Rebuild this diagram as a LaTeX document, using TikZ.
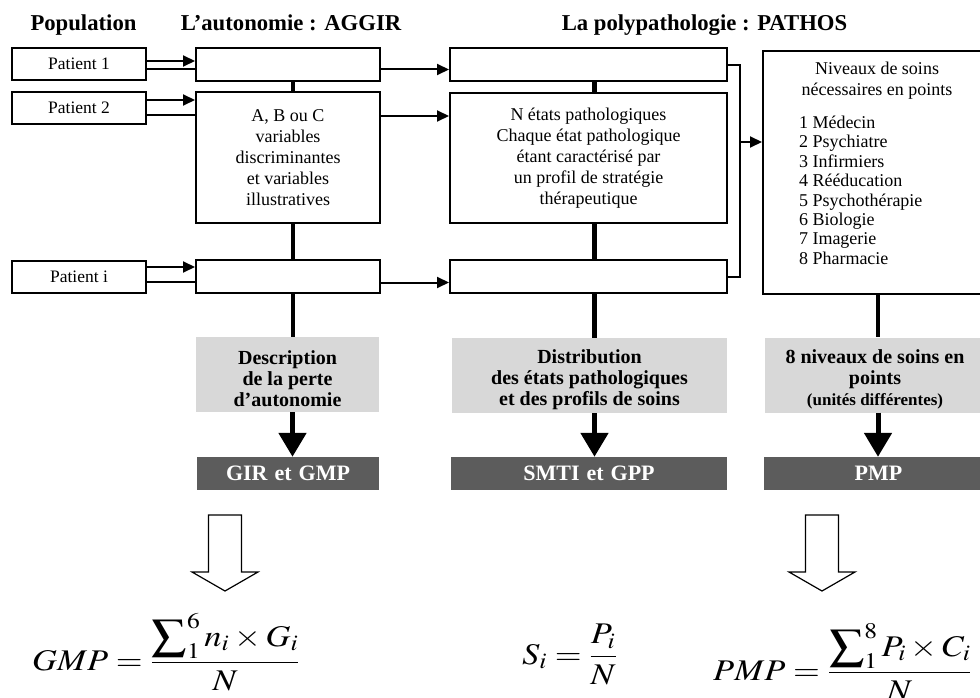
\documentclass[tikz,border=0pt]{standalone}
\usepackage{mathptmx}
\usepackage{graphicx}
\usepackage{fontspec}
\setmainfont{Liberation Serif}
\usepackage{tikz}
\usetikzlibrary{arrows.meta,positioning}
\definecolor{lightgr}{HTML}{D8D8D8}
\definecolor{darkgr}{HTML}{5C5C5C}

\begin{document}
\begin{tikzpicture}[x=1pt,y=-1pt,tt/.style={anchor=base,font=\fontsize{22.7}{26}\selectfont\bfseries},
pbox/.style={draw,line width=2pt,minimum width=134pt,minimum height=32pt,inner
sep=0pt,font=\fontsize{17.5}{21}\selectfont},bx/.style={draw,line width=2pt,inner sep=0pt,
align=center,font=\fontsize{18}{21}\selectfont},gbox/.style={fill=lightgr,inner sep=0pt,
align=center,minimum height=75pt,font=\fontsize{20}{21}\selectfont\bfseries},
dbox/.style={fill=darkgr,text=white,inner sep=0pt,minimum height=33pt,
font=\fontsize{22}{24}\selectfont\bfseries},arr/.style={line width=2pt,
-{Triangle[length=12pt,width=11pt]}},bar/.style={line width=4.5pt},
down/.style={line width=5pt,-{Triangle[length=24pt,width=27pt]}},
fml/.style={inner sep=0pt,anchor=base west,font=\fontsize{30}{34}\selectfont}]
\path[use as bounding box,fill=white] (0,0) rectangle (980,698);
\node[tt] (pop) at (83.5,31) {Population};
\node[tt] (aut) at (291,31) {L’autonomie : AGGIR};
\node[tt] (pat) at (704.5,31) {La polypathologie : PATHOS};
\node[pbox] (p1) at (79,64) {Patient 1};
\node[pbox] (p2) at (79,108) {Patient 2};
\node[pbox] (pi) at (79,276.5) {Patient i};
\node[bx,minimum width=184pt,minimum height=33pt] (a1) at (288,64.5) {};
\node[bx,minimum width=184pt,minimum height=131pt] (a2) at (288,157.5)
  {A, B ou C\\variables\\discriminantes\\et variables\\illustratives};
\node[bx,minimum width=184pt,minimum height=33pt] (a3) at (288,276.5) {};
\node[bx,minimum width=277pt,minimum height=33pt] (b1) at (588.5,65) {};
\node[bx,minimum width=277pt,minimum height=130pt] (b2) at (588.5,158)
  {N états pathologiques\\Chaque état pathologique\\étant caractérisé par\\un profil
   de stratégie\\thérapeutique};
\node[bx,minimum width=277pt,minimum height=33pt] (b3) at (588.5,276.5) {};
\node[bx,minimum width=222pt,minimum height=243pt] (c) at (874,172.5) {};
\node[bx,draw=none] (ch) at (877,81) {Niveaux de soins\\nécessaires en points};
\node[bx,draw=none,align=left,anchor=north west,
  font=\fontsize{18}{19.4}\selectfont] (cl) at (798,115)
  {1 Médecin\\2 Psychiatre\\3 Infirmiers\\4 Rééducation\\5 Psychothérapie\\6 Biologie\\
   7 Imagerie\\8 Pharmacie};
\node[gbox,minimum width=183pt] (g1) at (287.5,374.5)
  {\rule{0pt}{22pt}Description\\de la perte\\d’autonomie};
\node[gbox,minimum width=275pt] (g2) at (589.5,375.5)
  {\rule{0pt}{22pt}Distribution\\des états pathologiques\\et des profils de soins};
\node[gbox,minimum width=220pt] (g3) at (875,375)
  {\rule{0pt}{22pt}8 niveaux de soins en\\points\\{\fontsize{17}{21}\selectfont(unités différentes)}};
\node[dbox,minimum width=182pt] (d1) at (288,473.5) {GIR\hspace{7pt}et\hspace{7pt}GMP};
\node[dbox,minimum width=276pt] (d2) at (589,473.5) {SMTI\hspace{7pt}et\hspace{7pt}GPP};
\node[dbox,minimum width=221pt] (d3) at (874.5,473.5) {\hspace{8pt}PMP};
\node[fml] (f1) at (32,670) {\scalebox{1.15}[1]{$\displaystyle
  GMP=\frac{\displaystyle\sum\nolimits_1^6 n_i\times G_i}{N}$}};
\node[fml] (f2) at (522,664) {\scalebox{1.15}[1]{$\displaystyle S_i=\frac{P_i}{N}$}};
\node[fml] (f3) at (713,680) {\scalebox{1.15}[1]{$\displaystyle
  PMP=\frac{\displaystyle\sum\nolimits_1^8 P_i\times C_i}{N}$}};
\foreach \p/\a/\u/\l in {p1/a1/3/-5,p2/a2/8/-7,pi/a3/9.5/-5.5}{
  \draw[arr] ([yshift=\u pt]\p.east) -- ([yshift=\u pt]\p.east -| \a.west);
  \draw[line width=2pt] ([yshift=\l pt]\p.east) -- ([yshift=\l pt]\p.east -| \a.west);
}
\draw[arr] ([yshift=-5pt]a1.east) -- ([yshift=-5pt]a1.east -| b1.west);
\draw[arr] ([yshift=-25pt]a2.north east) -- ([yshift=-25pt]a2.north east -| b2.west);
\draw[arr] ([yshift=-6pt]a3.east) -- ([yshift=-6pt]a3.east -| b3.west);
\draw[bar] ([xshift=5pt]a1.south) -- ([xshift=5pt]a2.north);
\draw[bar] ([xshift=5pt]a2.south) -- ([xshift=5pt]a3.north);
\draw[bar] ([xshift=5pt]a3.south) -- ([xshift=5pt]a3.south |- g1.north);
\draw[bar] ([xshift=6pt]b1.south) -- ([xshift=6pt]b2.north);
\draw[bar] ([xshift=6pt]b2.south) -- ([xshift=6pt]b3.north);
\draw[bar] ([xshift=6pt]b3.south) -- ([xshift=6pt]b3.south |- g2.north);
\draw[bar] ([xshift=4pt]c.south) -- ([xshift=4pt]c.south |- g3.north);
\draw[line width=2pt] (b1.east) -- ++(12,0) |- (b3.east);
\draw[arr] ([xshift=12pt,yshift=16pt]b2.east) -- ([yshift=16pt]b2.east -| c.west);
\draw[down] ([xshift=5pt]g1.south) -- ([xshift=5pt]g1.south |- d1.north);
\draw[down] ([xshift=5pt]g2.south) -- ([xshift=5pt]g2.south |- d2.north);
\draw[down] ([xshift=3pt]g3.south) -- ([xshift=3pt]g3.south |- d3.north);
\foreach \x in {225,822}
  \draw[line width=1.2pt] (\x-16.5,515) -- (\x+16.5,515) -- (\x+16.5,572) -- (\x+33,572)
    -- (\x,591) -- (\x-33,572) -- (\x-16.5,572) -- cycle;
\end{tikzpicture}
\end{document}
